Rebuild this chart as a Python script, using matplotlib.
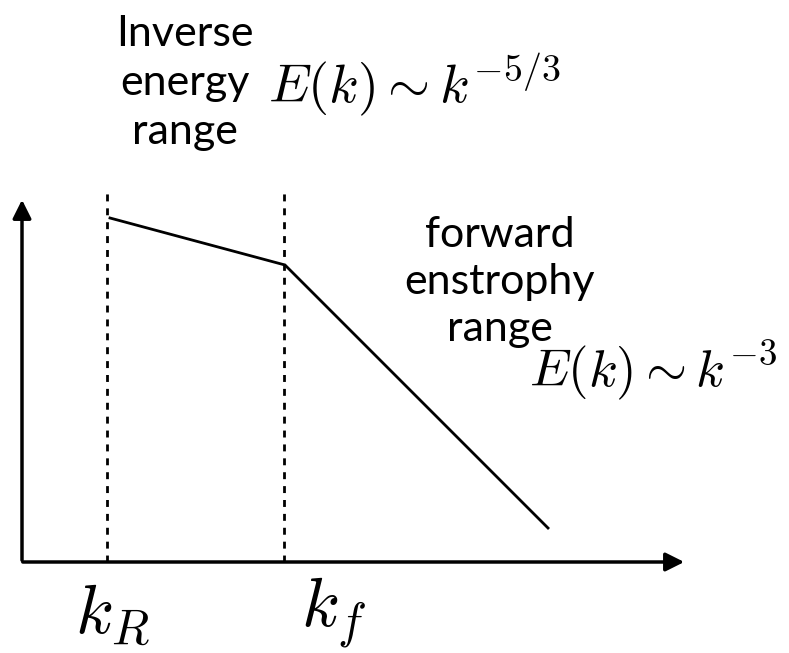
import numpy as np
import matplotlib.pyplot as plt

plt.rcParams['mathtext.fontset'] = 'cm'

# schematic spectrum (arbitrary units)
k_R = 85
k_f = 262
k = [88, 263, 526]
E = [344, 297, 34]

fig = plt.figure(figsize=(7.89, 6.53), dpi=100)
ax = fig.add_axes([0, 0, 1, 1])
ax.set_xlim(-22, 767)
ax.set_ylim(-91, 562)
ax.axis('off')

# axes arrows
ax.annotate('', xy=(665, 0), xytext=(-2, 0),
            arrowprops=dict(arrowstyle='-|>', lw=2.5, color='black', mutation_scale=28))
ax.annotate('', xy=(0, 365), xytext=(0, -1),
            arrowprops=dict(arrowstyle='-|>', lw=2.5, color='black', mutation_scale=28))

# dashed lines
for kk in [k_R, k_f]:
    ax.plot([kk, kk], [0, 370], color='black', lw=2, ls=(0, (2.5, 2.5)))

ax.plot(k, E, color='black', lw=2)

txt = dict(fontfamily='Lato', fontsize=31, ha='center', va='center')
ax.text(163, 479, 'Inverse\nenergy\nrange', linespacing=1.35, **txt)
ax.text(478, 280, 'forward\nenstrophy\nrange', linespacing=1.3, **txt)

ax.text(246, 477, r'$E(k)\sim k^{-5/3}$', fontsize=39, ha='left', va='center')
ax.text(507, 192, r'$E(k)\sim k^{-3}$', fontsize=38, ha='left', va='center')

ax.text(90, -52, r'$k_R$', fontsize=50, ha='center', va='center')
ax.text(311, -52, r'$k_f$', fontsize=50, ha='center', va='center')

fig.savefig('out.png', dpi=100)
